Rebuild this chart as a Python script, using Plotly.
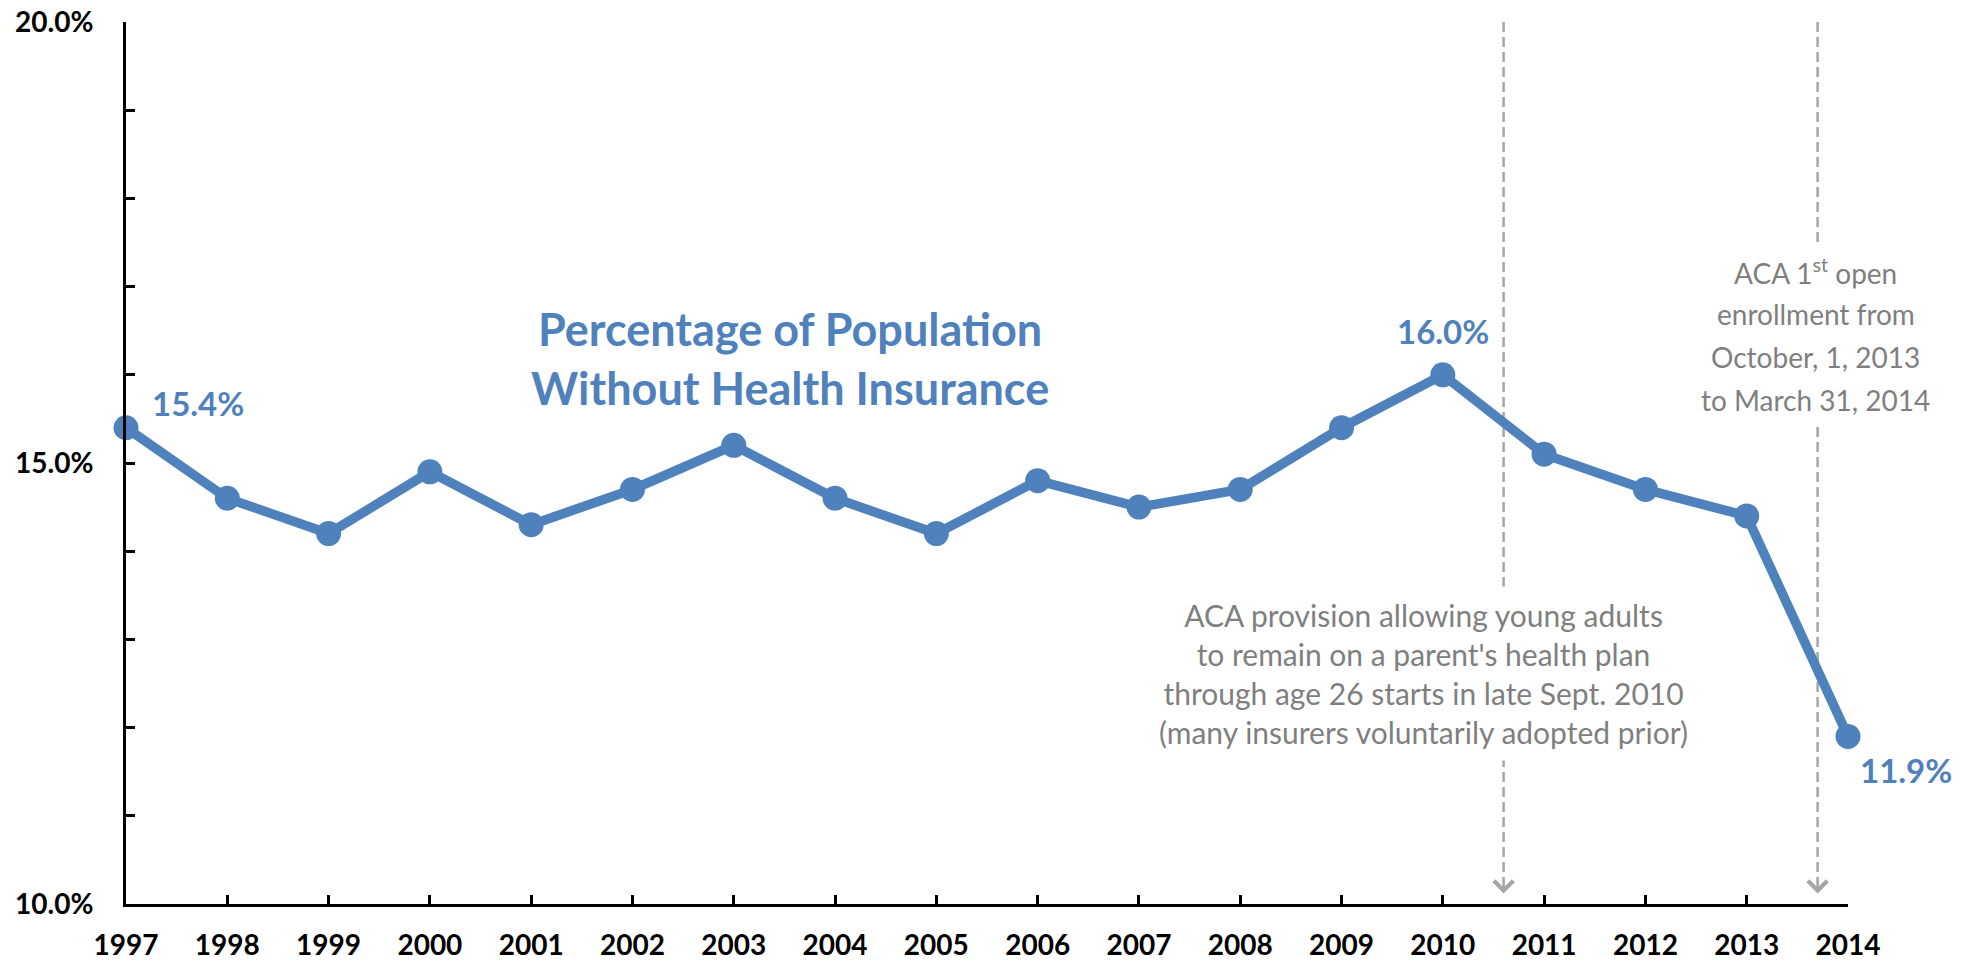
import plotly.graph_objects as go

years = list(range(1997, 2015))
uninsured_pct = [15.4, 14.6, 14.2, 14.9, 14.3, 14.7, 15.2, 14.6, 14.2, 14.8,
                 14.5, 14.7, 15.4, 16.0, 15.1, 14.7, 14.4, 11.9]
y_tick_vals = list(range(10, 21))
y_tick_text = ["10.0%", "", "", "", "", "15.0%", "", "", "", "", "20.0%"]
x_tick_text = [str(y) for y in years]

labelled_years = [1997, 2010, 2014]
event_x = [2010.6, 2013.7]

title_text = "Percentage of Population<br>Without Health Insurance"
note_young = ("ACA provision allowing young adults<br>to remain on a parent's health plan<br>"
              "through age 26 starts in late Sept. 2010<br>(many insurers voluntarily adopted prior)")
note_enroll_lines = ["ACA 1<sup>st</sup> open", "enrollment from",
                     "October, 1, 2013", "to March 31, 2014"]

BLUE = "#4F81BD"
GRAY_TXT = "#7F7F7F"
GRAY_LINE = "#A6A6A6"
FONT = "Lato"

fig = go.Figure()
fig.add_trace(go.Scatter(
    x=years, y=uninsured_pct, mode="lines+markers",
    line=dict(color=BLUE, width=9.5),
    marker=dict(color=BLUE, size=25),
    cliponaxis=False, showlegend=False, hoverinfo="x+y",
))

for ex in event_x:
    fig.add_shape(type="line", x0=ex, x1=ex, y0=20, y1=10.25, xref="x", yref="y",
                  line=dict(color=GRAY_LINE, width=2.5, dash="10px,5px"), layer="below")
    fig.add_annotation(x=ex, y=10.12, xref="x", yref="y", text="", showarrow=True,
                       ax=0, ay=-14, arrowhead=4, arrowsize=1.5, arrowwidth=2.5,
                       arrowcolor=GRAY_LINE, standoff=0)

val = dict(zip(years, uninsured_pct))
lab_cfg = {
    1997: dict(xanchor="left", yanchor="middle", xshift=24, yshift=25),
    2010: dict(xanchor="center", yanchor="bottom", xshift=0, yshift=22),
    2014: dict(xanchor="left", yanchor="middle", xshift=10, yshift=-34),
}
for yr in labelled_years:
    fig.add_annotation(x=yr, y=val[yr], xref="x", yref="y", text=f"<b>{val[yr]:.1f}%</b>",
                       showarrow=False, font=dict(family=FONT, size=33, color=BLUE),
                       **lab_cfg[yr])

fig.add_annotation(x=2003.56, y=16.18, xref="x", yref="y", text=f"<b>{title_text}</b>",
                   showarrow=False, font=dict(family=FONT, size=45, color=BLUE),
                   align="center", xanchor="center", yanchor="middle")

fig.add_annotation(x=2009.81, y=12.61, xref="x", yref="y", text=note_young,
                   showarrow=False, font=dict(family=FONT, size=30, color=GRAY_TXT),
                   align="center", xanchor="center", yanchor="middle",
                   bgcolor="white", borderpad=10)

n = len(note_enroll_lines)
for i, line in enumerate(note_enroll_lines):
    fig.add_annotation(x=2013.68, y=16.44, xref="x", yref="y", text=line,
                       showarrow=False, font=dict(family=FONT, size=28, color=GRAY_TXT),
                       align="center", xanchor="center", yanchor="middle",
                       yshift=-(i - (n - 1) / 2) * 43,
                       bgcolor="white", borderpad=8)

axis_common = dict(showgrid=False, zeroline=False, showline=True, linecolor="black",
                   linewidth=3, ticks="inside", ticklen=9, tickwidth=3, tickcolor="black",
                   automargin=False,
                   tickfont=dict(family=FONT, size=28, color="black", weight="bold"))
fig.update_xaxes(range=[1997, 2014], tickvals=years, ticktext=x_tick_text,
                 ticklabelstandoff=14, **axis_common)
fig.update_yaxes(range=[10, 20], tickvals=y_tick_vals, ticktext=y_tick_text,
                 ticklabelstandoff=24, **axis_common)

fig.update_layout(width=1976, height=964, margin=dict(l=126, r=128, t=22, b=60),
                  plot_bgcolor="white", paper_bgcolor="white")

fig.write_html("out.html", config={"displayModeBar": False},
               post_script="document.body.style.margin='0';document.body.style.overflow='hidden';")
